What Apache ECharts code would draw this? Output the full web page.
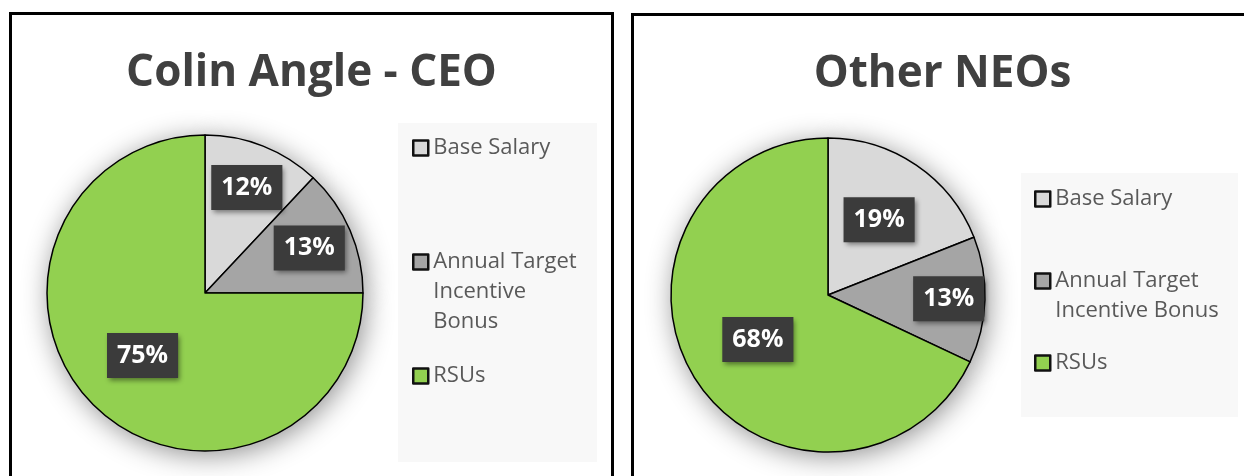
<!DOCTYPE html>
<html>
<head>
<meta charset="utf-8">
<script src="https://cdn.jsdelivr.net/npm/echarts@6/dist/echarts.min.js"></script>
<style>
  html, body { margin: 0; padding: 0; background: #fff; }
  body { width: 1244px; height: 476px; position: relative; overflow: hidden; }
  .panel { position: absolute; box-sizing: border-box; border: 3px solid #000; border-bottom: none; background: #fff; }
  #ceo { left: 9px; top: 12px; width: 605px; height: 480px; }
  #neo { left: 631px; top: 13px; width: 623px; height: 480px; }
</style>
</head>
<body>
<div id="ceo" class="panel"></div>
<div id="neo" class="panel"></div>

<script>
// data
const categories = ['Base Salary', 'Annual Target Incentive Bonus', 'RSUs']
const ceoValues = [12, 13, 75]
const neoValues = [19, 13, 68]
const titles = ['Colin Angle - CEO', 'Other NEOs']

const colors = ['#d9d9d9', '#a5a5a5', '#92d050']
const fontFamily = '"Open Sans", "Liberation Sans", sans-serif'

// how far out (fraction of radius) each slice label sits, like excel best fit
const ceoLabelPos = [0.70, 0.70, 0.54]
const neoLabelPos = [0.56, 0.75, 0.51]

function labelShift(values, pos, radius) {
  const total = values.reduce((a, b) => a + b, 0)
  return function(params) {
    let start = 0
    for (let i = 0; i < params.dataIndex; i++) start += values[i]
    const mid = (start + values[params.dataIndex] / 2) / total * Math.PI * 2
    const d = (pos[params.dataIndex] - 0.5) * radius
    return { dx: d * Math.sin(mid), dy: -d * Math.cos(mid) }
  }
}

function buildOption({ title, values, labelPos, center, radius, legendTop, legendGaps, bonusLines, legendBox }) {
  const data = categories.map((name, i) => ({
    name: name,
    value: values[i],
    itemStyle: { color: colors[i] }
  }))
  // legend icon sits on the middle of the text block, so pad with empty lines
  // above to keep it level with the first line
  const bonusText = new Array(bonusLines.length).join('\n') + bonusLines.join('\n')
  return {
    animation: false,
    title: {
      text: title,
      left: 'center',
      top: 31,
      textStyle: { fontFamily: fontFamily, fontSize: 44, fontWeight: 'bold', color: '#404040' }
    },
    graphic: [{
      type: 'rect',
      left: legendBox[0],
      top: legendBox[1],
      shape: { width: legendBox[2], height: legendBox[3] },
      style: { fill: '#f8f8f8' },
      z: 0
    }],
    legend: {
      orient: 'vertical',
      left: 400,
      top: legendTop,
      padding: 0,
      itemGap: legendGaps,
      itemWidth: 15,
      itemHeight: 15,
      icon: 'rect',
      selectedMode: false,
      itemStyle: { borderColor: '#111', borderWidth: 2.5 },
      textStyle: { fontFamily: fontFamily, fontSize: 22, color: '#595959', lineHeight: 30 },
      data: categories,
      formatter: name => name === categories[1] ? bonusText : name
    },
    series: [
      {
        type: 'pie',
        center: center,
        radius: radius,
        startAngle: 90,
        clockwise: true,
        avoidLabelOverlap: false,
        z: 2,
        itemStyle: { borderColor: '#000', borderWidth: 1.5 },
        label: {
          show: true,
          position: 'inside',
          formatter: '{c}%',
          fontFamily: fontFamily,
          fontSize: 25,
          fontWeight: 'bold',
          color: '#fff',
          backgroundColor: '#3b3b3b',
          padding: [10, 10, 10, 10],
          shadowBlur: 5,
          shadowOffsetX: 2,
          shadowOffsetY: 3,
          shadowColor: 'rgba(0,0,0,0.45)'
        },
        labelLine: { show: false },
        labelLayout: labelShift(values, labelPos, radius),
        emphasis: { scale: false },
        data: data
      },
      {
        // soft shadow under the pie
        type: 'pie',
        silent: true,
        center: center,
        radius: radius,
        startAngle: 90,
        z: 1,
        label: { show: false },
        labelLine: { show: false },
        itemStyle: { color: '#fff', shadowBlur: 28, shadowOffsetX: 3, shadowOffsetY: 4, shadowColor: 'rgba(0,0,0,0.45)' },
        data: data.map(d => ({ name: d.name, value: d.value }))
      }
    ]
  }
}

const ceoChart = echarts.init(document.getElementById('ceo'))
ceoChart.setOption(buildOption({
  title: titles[0],
  values: ceoValues,
  labelPos: ceoLabelPos,
  center: [193, 278],
  radius: 158,
  legendTop: 118,
  legendGaps: 24,
  bonusLines: ['Annual Target', 'Incentive', 'Bonus'],
  legendBox: [386, 108, 199, 339]
}))

const neoChart = echarts.init(document.getElementById('neo'))
neoChart.setOption(buildOption({
  title: titles[1],
  values: neoValues,
  labelPos: neoLabelPos,
  center: [194, 279],
  radius: 157,
  legendTop: 168,
  legendGaps: 22,
  bonusLines: ['Annual Target', 'Incentive Bonus'],
  legendBox: [387, 157, 217, 244]
}))
</script>
</body>
</html>
